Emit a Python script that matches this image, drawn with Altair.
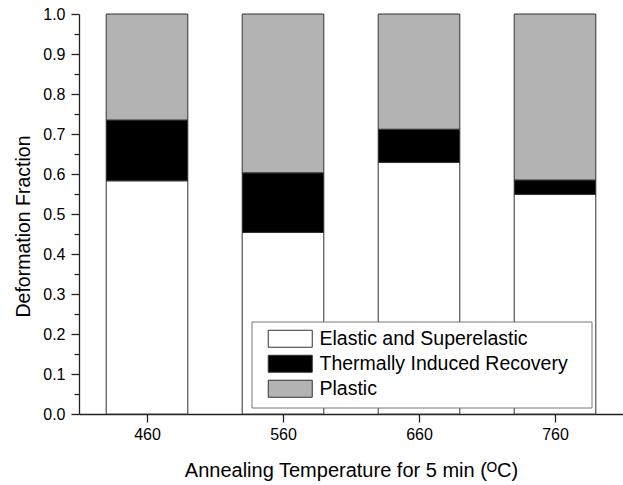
import altair as alt
import pandas as pd

# Annealing temperatures (°C) and the deformation fractions at each
temperatures = [460, 560, 660, 760]
elastic = [0.583, 0.454, 0.629, 0.549]
thermal = [0.152, 0.149, 0.083, 0.036]
categories = ["Elastic and Superelastic", "Thermally Induced Recovery", "Plastic"]
colors = ["#ffffff", "#000000", "#b3b3b3"]

BAR_WIDTH = 60  # in °C units on the x scale

rows = []
for t, e, r in zip(temperatures, elastic, thermal):
    parts = [e, r, 1.0 - e - r]
    base = 0.0
    for i, (cat, val) in enumerate(zip(categories, parts)):
        rows.append({"temp": t, "category": cat, "order": i,
                     "lo": base, "hi": base + val})
        base += val
df = pd.DataFrame(rows)

font = "Liberation Sans"

x_scale = alt.Scale(domain=[410, 810], nice=False, zero=False)
y_scale = alt.Scale(domain=[0, 1], nice=False)

bars = (
    alt.Chart(df)
    .transform_calculate(x0=f"datum.temp - {BAR_WIDTH / 2}",
                         x1=f"datum.temp + {BAR_WIDTH / 2}")
    .mark_bar(stroke="#333333", strokeWidth=1, opacity=1)
    .encode(
        x=alt.X("x0:Q", scale=x_scale,
                axis=alt.Axis(values=temperatures, title="Annealing Temperature for 5 min (\u1D3CC)",
                              grid=False, tickSize=8, labelPadding=4,
                              titleBaseline="alphabetic", titleY=62,
                              titleFontSize=20, format="d")),
        x2="x1:Q",
        y=alt.Y("lo:Q", scale=y_scale,
                axis=alt.Axis(values=[round(i * 0.1, 1) for i in range(11)],
                              format=".1f", title="Deformation Fraction",
                              grid=False, tickSize=8, labelPadding=6,
                              titleX=-56, titleY=212, titleBaseline="middle")),
        y2="hi:Q",
        color=alt.Color(
            "category:N",
            scale=alt.Scale(domain=categories, range=colors),
            sort=categories,
            legend=alt.Legend(
                title=None, orient="none", legendX=172.5, legendY=307.5,
                fillColor="white", strokeColor="#777777", padding=7.5,
                symbolType="M-2.59,-1H2.59V1H-2.59Z", symbolSize=289,
                symbolStrokeColor="#333333", symbolStrokeWidth=1,
                symbolOffset=21.5, labelOffset=19.5, labelLimit=500,
                labelFontSize=19.5, labelFont=font, labelColor="black",
                rowPadding=3,
                # keep some blank room to the right of the longest label
                labelExpr="datum.label + '\u00a0\u00a0\u00a0\u200b'",
            ),
        ),
        order=alt.Order("order:Q"),
    )
)

# Minor ticks on the y axis, halfway between the labelled ones
minor = (
    alt.Chart(pd.DataFrame({"v": [0.0]}))
    .mark_point(opacity=0)
    .encode(
        y=alt.Y("v:Q", scale=y_scale,
                axis=alt.Axis(values=[round(0.05 + i * 0.1, 2) for i in range(10)],
                              labels=False, title=None, tickSize=5,
                              domain=False, grid=False, orient="left")),
    )
)

chart = (
    alt.layer(bars, minor)
    .resolve_axis(y="independent")
    .properties(width=544, height=400, autosize="none",
                padding={"left": 79, "top": 14, "right": 0, "bottom": 71})
    .configure_view(stroke=None)
    .configure_axis(domainColor="#222222", tickColor="#222222", domainWidth=1.3,
                    tickWidth=1.3, labelFont=font, labelFontSize=16,
                    labelColor="black", titleFont=font, titleFontSize=19.5,
                    titleFontWeight="normal", titleColor="black")
)

chart.save("out.html", embed_options={"renderer": "svg", "actions": False})
